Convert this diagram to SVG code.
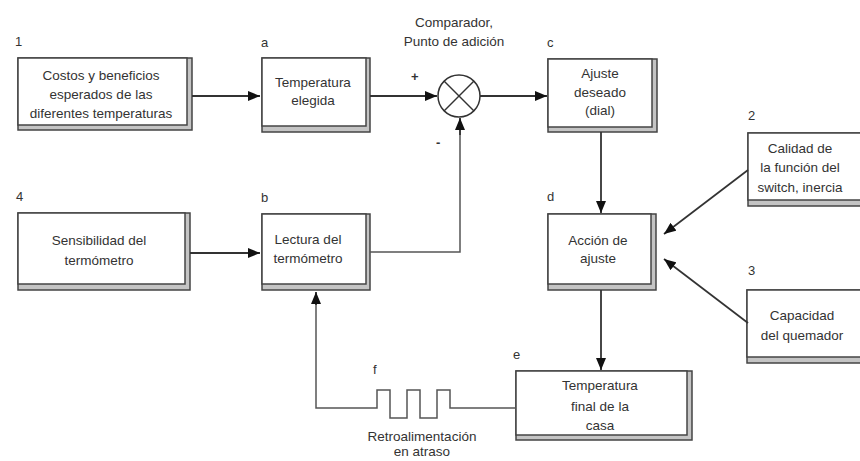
<svg xmlns="http://www.w3.org/2000/svg" width="860" height="461" viewBox="0 0 860 461">
<style>
.sh{fill:#c4c4c4;stroke:#444;stroke-width:1.5}
.fr{fill:#fff;stroke:#444;stroke-width:1.5}
.t{font-family:"Liberation Sans",Arial,sans-serif;font-size:13.5px;fill:#333;text-anchor:middle}
.n{font-family:"Liberation Sans",Arial,sans-serif;font-size:13px;fill:#333}
.c{fill:none;stroke:#333;stroke-width:1.8}
.g{fill:none;stroke:#555;stroke-width:1.5}
</style>
<defs>
<marker id="ah" viewBox="0 0 12 10" refX="12" refY="5" markerWidth="12" markerHeight="10" markerUnits="userSpaceOnUse" orient="auto">
<path d="M0,0 L12,5 L0,10 z" fill="#111"/>
</marker>
</defs>
<rect width="860" height="461" fill="#fff"/>
<g id="n1">
<rect class="sh" x="18" y="58" width="174" height="72"/>
<rect class="fr" x="18" y="58" width="169" height="67"/>
<text class="n" x="15" y="46">1</text>
<text class="t" x="101" y="80">Costos y beneficios</text>
<text class="t" x="101" y="99">esperados de las</text>
<text class="t" x="101" y="118">diferentes temperaturas</text>
</g>
<g id="na">
<rect class="sh" x="262" y="58" width="108" height="74"/>
<rect class="fr" x="262" y="58" width="104" height="68"/>
<text class="n" x="261" y="47">a</text>
<text class="t" x="313" y="87">Temperatura</text>
<text class="t" x="313" y="105">elegida</text>
</g>
<g id="comp">
<circle cx="459" cy="96" r="21" fill="#fff" stroke="#333" stroke-width="1.5"/>
<line x1="444" y1="81" x2="474" y2="111" stroke="#333" stroke-width="1.5"/>
<line x1="474" y1="81" x2="444" y2="111" stroke="#333" stroke-width="1.5"/>
<text class="t" x="454" y="27">Comparador,</text>
<text class="t" x="454" y="46">Punto de adición</text>
<text class="n" x="411" y="81" font-weight="bold">+</text>
<text class="n" x="436" y="147" font-weight="bold">-</text>
</g>
<g id="nc">
<rect class="sh" x="548" y="59" width="109" height="73"/>
<rect class="fr" x="548" y="59" width="104" height="68"/>
<text class="n" x="547" y="47">c</text>
<text class="t" x="600" y="78">Ajuste</text>
<text class="t" x="600" y="97">deseado</text>
<text class="t" x="600" y="115">(dial)</text>
</g>
<g id="n2">
<rect class="sh" x="748" y="133" width="120" height="73"/>
<rect class="fr" x="748" y="133" width="120" height="67"/>
<text class="n" x="748" y="120">2</text>
<text class="t" x="800" y="153">Calidad de</text>
<text class="t" x="800" y="172">la función del</text>
<text class="t" x="800" y="192">switch, inercia</text>
</g>
<g id="n4">
<rect class="sh" x="18" y="213" width="172" height="77"/>
<rect class="fr" x="18" y="213" width="167" height="71"/>
<text class="n" x="16" y="201">4</text>
<text class="t" x="99" y="245">Sensibilidad del</text>
<text class="t" x="99" y="265">termómetro</text>
</g>
<g id="nb">
<rect class="sh" x="262" y="214" width="108" height="76"/>
<rect class="fr" x="262" y="214" width="104" height="70"/>
<text class="n" x="261" y="202">b</text>
<text class="t" x="308" y="244">Lectura del</text>
<text class="t" x="308" y="263">termómetro</text>
</g>
<g id="nd">
<rect class="sh" x="548" y="214" width="108" height="76"/>
<rect class="fr" x="548" y="214" width="103" height="70"/>
<text class="n" x="547" y="201">d</text>
<text class="t" x="598" y="245">Acción de</text>
<text class="t" x="598" y="263">ajuste</text>
</g>
<g id="n3">
<rect class="sh" x="747" y="290" width="121" height="73"/>
<rect class="fr" x="747" y="290" width="121" height="67"/>
<text class="n" x="748" y="275">3</text>
<text class="t" x="802" y="320">Capacidad</text>
<text class="t" x="802" y="340">del quemador</text>
</g>
<g id="ne">
<rect class="sh" x="516" y="371" width="176" height="69"/>
<rect class="fr" x="516" y="371" width="171" height="64"/>
<text class="n" x="513" y="359">e</text>
<text class="t" x="600" y="390">Temperatura</text>
<text class="t" x="600" y="411">final de la</text>
<text class="t" x="600" y="430">casa</text>
</g>
<g id="nf">
<text class="n" x="373" y="374">f</text>
<text class="t" x="422" y="441" font-size="13">Retroalimentación</text>
<text class="t" x="422" y="456" font-size="13">en atraso</text>
</g>
<g id="connectors">
<line class="c" x1="192" y1="96" x2="260" y2="96" marker-end="url(#ah)"/>
<line class="c" x1="370" y1="96" x2="437" y2="96" marker-end="url(#ah)"/>
<line class="c" x1="480" y1="96" x2="547" y2="96" marker-end="url(#ah)"/>
<line class="c" x1="601" y1="132" x2="601" y2="213" marker-end="url(#ah)"/>
<line class="c" x1="601" y1="290" x2="601" y2="370" marker-end="url(#ah)"/>
<line class="c" x1="190" y1="253" x2="260" y2="253" marker-end="url(#ah)"/>
<polyline class="g" points="370,252 460,252 460,130"/>
<line class="c" x1="460" y1="135" x2="460" y2="118" marker-end="url(#ah)"/>
<line class="c" x1="748" y1="170" x2="664" y2="234" marker-end="url(#ah)"/>
<line class="c" x1="748" y1="323" x2="664" y2="259" marker-end="url(#ah)"/>
<polyline class="g" points="516,408 450,408 450,390 437,390 437,418 420,418 420,390 407,390 407,418 390,418 390,390 377,390 377,408 316,408 316,300"/>
<line class="c" x1="316" y1="305" x2="316" y2="292" marker-end="url(#ah)"/>
</g>
</svg>
